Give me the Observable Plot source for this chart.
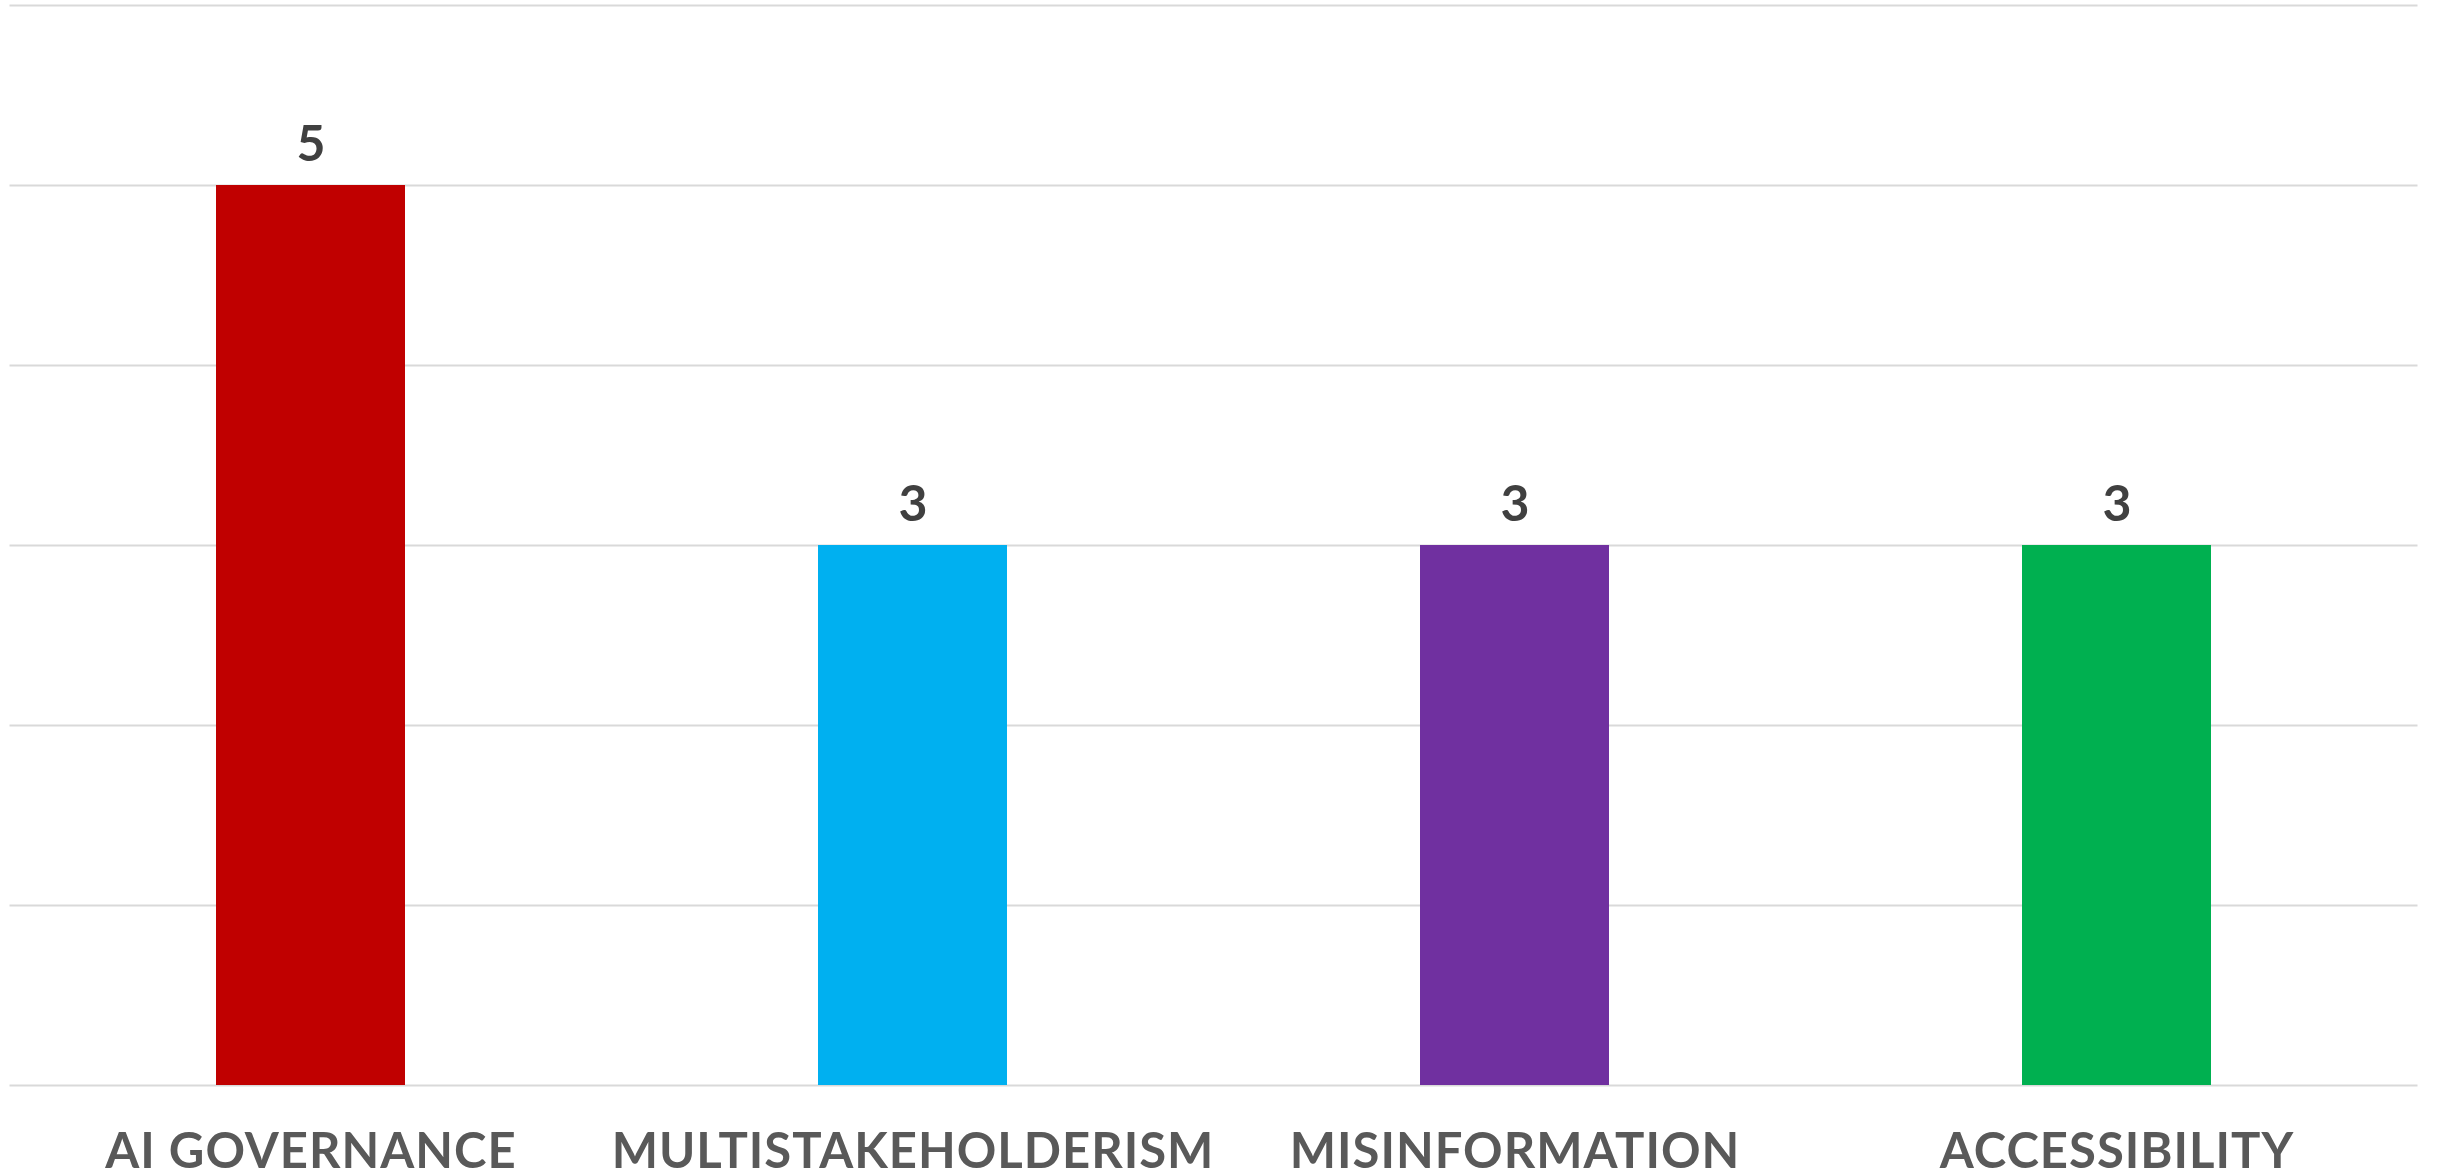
<!DOCTYPE html>
<html>
<head>
<meta charset="utf-8">
<script src="https://cdn.jsdelivr.net/npm/d3@7"></script>
<script src="https://cdn.jsdelivr.net/npm/@observablehq/plot@0.6"></script>
<style>
  html, body { margin: 0; padding: 0; background: #ffffff; }
  #chart svg { display: block; }
  #chart g[aria-label="x-axis tick label"] text { letter-spacing: 1px; }
</style>
</head>
<body>
<div id="chart"></div>
<script>
const categories = ["AI GOVERNANCE", "MULTISTAKEHOLDERISM", "MISINFORMATION", "ACCESSIBILITY"];
const values = [5, 3, 3, 3];
const colors = ["#C00000", "#00B0F0", "#7030A0", "#00B050"];
const yTicks = [0, 1, 2, 3, 4, 5, 6];

const data = categories.map((c, i) => ({category: c, value: values[i], color: colors[i]}));

const chart = Plot.plot({
  width: 2440,
  height: 1176,
  marginLeft: 9.5,
  marginRight: 22.5,
  marginTop: 5,
  marginBottom: 91,
  style: {fontFamily: "Lato, 'Open Sans', sans-serif", background: "#ffffff"},
  x: {domain: categories, paddingInner: 0.686, paddingOuter: 0.343, label: null},
  y: {domain: [0, 6], label: null, axis: null},
  marks: [
    Plot.ruleY(yTicks, {stroke: "#d9d9d9", strokeWidth: 2, strokeOpacity: 1}),
    Plot.barY(data, {x: "category", y: "value", fill: "color"}),
    Plot.text(data, {
      x: "category", y: "value", text: d => String(d.value),
      dy: -25, lineAnchor: "bottom", fontSize: 50, fontWeight: "bold", fill: "#404040"
    }),
    Plot.axisX({
      tickSize: 0, tickPadding: 48, fontSize: 49, fontWeight: "bold",
      color: "#595959", label: null
    })
  ]
});
document.getElementById("chart").appendChild(chart);
</script>
</body>
</html>
